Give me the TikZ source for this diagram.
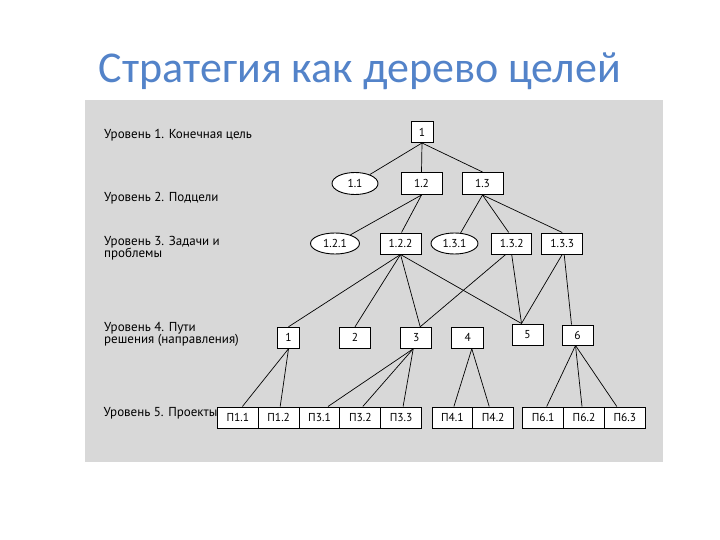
\documentclass[tikz,border=0pt]{standalone}
\usepackage{fontspec}
\setmainfont{PT Sans}
\newfontfamily\titlefont{Carlito}
\usetikzlibrary{shapes.geometric,calc}
\definecolor{panel}{RGB}{216,216,216}
\definecolor{titleblue}{RGB}{83,131,201}
\begin{document}
\begin{tikzpicture}[x=1pt,y=-1pt,
  nodefont/.style={font=\fontsize{11.5}{12}\selectfont},
  bx/.style={draw,fill=white,line width=1pt,inner sep=0pt,minimum height=21pt,nodefont},
  ell/.style={ellipse,draw,fill=white,line width=0.9pt,inner sep=0pt,minimum height=21pt,nodefont},
  pbox/.style={bx,minimum width=40.8pt},
  lbl/.style={anchor=base west,inner sep=0pt,font=\fontsize{13}{13}\selectfont},
  edge/.style={line width=0.7pt}]
\useasboundingbox (0,0) rectangle (720,540);
\fill[white] (0,0) rectangle (720,540);
\fill[panel] (85,100) rectangle (663,462);
\node[font=\titlefont\fontsize{44}{50}\selectfont,text=titleblue,anchor=base,inner sep=0pt] (title) at (360,83) {Стратегия как дерево целей};
% level labels
\node[lbl] (L1) at (104,138.3) {Уровень 1. Конечная цель};
\node[lbl] (L2) at (104,201.7) {Уровень 2. Подцели};
\node[lbl] (L3a) at (104,245) {Уровень 3. Задачи и};
\node[lbl] (L3b) at (104,257) {проблемы};
\node[lbl] (L4a) at (104,331.7) {Уровень 4. Пути};
\node[lbl] (L4b) at (104,343.5) {решения (направления)};
\node[lbl] (L5) at (103.5,416) {Уровень 5. Проекты};
% level 1
\node[bx,minimum width=22pt] (n1) at (422,132) {1};
% level 2
\node[ell,minimum width=46pt,minimum height=22pt] (n11) at (355,183.5) {1.1};
\node[bx,minimum width=41pt,minimum height=22pt] (n12) at (421.5,183.5) {1.2};
\node[bx,minimum width=41pt,minimum height=22pt] (n13) at (482.5,183.5) {1.3};
% level 3
\node[ell,minimum width=49pt] (n121) at (335,243.5) {1.2.1};
\node[bx,minimum width=41pt] (n122) at (400.5,243.5) {1.2.2};
\node[ell,minimum width=47pt] (n131) at (454.5,243.5) {1.3.1};
\node[bx,minimum width=40pt] (n132) at (511.7,243.5) {1.3.2};
\node[bx,minimum width=41pt] (n133) at (562.2,243.5) {1.3.3};
% level 4
\node[bx,minimum width=21.5pt] (m1) at (288.5,337.8) {1};
\node[bx,minimum width=31pt] (m2) at (355,337.8) {2};
\node[bx,minimum width=31pt] (m3) at (416.2,337.8) {3};
\node[bx,minimum width=32pt] (m4) at (467.8,337.8) {4};
\node[bx,minimum width=31pt] (m5) at (527.5,334.5) {5};
\node[bx,minimum width=31pt,minimum height=20pt] (m6) at (577.5,335) {6};
% level 5
\node[pbox] (p11) at (237.9,417.5) {П1.1};
\node[pbox] (p12) at (278.7,417.5) {П1.2};
\node[pbox] (p31) at (319.5,417.5) {П3.1};
\node[pbox] (p32) at (360.3,417.5) {П3.2};
\node[pbox] (p33) at (401.1,417.5) {П3.3};
\node[pbox] (p41) at (452.4,417.5) {П4.1};
\node[pbox] (p42) at (493.2,417.5) {П4.2};
\node[pbox] (p61) at (543.2,417.5) {П6.1};
\node[pbox] (p62) at (584.0,417.5) {П6.2};
\node[pbox] (p63) at (624.8,417.5) {П6.3};
% helper coordinates
\coordinate (c3) at ($(m3.north)+(4,0)$);
\coordinate (c5) at ($(m5.north)+(-6,0)$);
\coordinate (c6) at ($(m6.north)+(-6,0)$);
% edges
\begin{scope}[edge]
\draw (n1.south) -- (n11);
\draw (n1.south) -- (n12.north);
\draw (n1.south) -- (n13.north);
\draw (n12.south) -- (n121);
\draw (n12.south) -- ($(n122.north)+(1,0)$);
\draw (n13.south) -- (n131);
\draw (n13.south) -- ($(n132.north)+(-3,0)$);
\draw (n13.south) -- (n133.north);
\draw (n122.south) -- (m1.north);
\draw (n122.south) -- (m2.north);
\draw (n122.south) -- (c3);
\draw (n122.south) -- (c5);
\draw ($(n132.south)+(-6,0)$) -- (c3);
\draw (n132.south) -- (c5);
\draw (n133.south) -- (c5);
\draw ($(n133.south)+(2,0)$) -- (c6);
\draw (m1.south) -- ($(p11.north)+(4.5,0)$);
\draw (m1.south) -- ($(p12.north)+(1.5,0)$);
\draw ($(m3.south)+(-3,0)$) -- ($(p31.north)+(8.5,0)$);
\draw ($(m3.south)+(-3,0)$) -- ($(p32.north)+(2.5,0)$);
\draw ($(m3.south)+(-3,0)$) -- ($(p33.north)+(2,0)$);
\draw ($(m4.south)+(4,0)$) -- ($(p41.north)+(1.5,0)$);
\draw ($(m4.south)+(4,0)$) -- ($(p42.north)+(-4,0)$);
\draw ($(m6.south)+(-2,0)$) -- ($(p61.north)+(3.5,0)$);
\draw ($(m6.south)+(-2,0)$) -- ($(p62.north)+(-2,0)$);
\draw ($(m6.south)+(-2,0)$) -- ($(p63.north)+(-8,0)$);
\end{scope}
\end{tikzpicture}
\end{document}
